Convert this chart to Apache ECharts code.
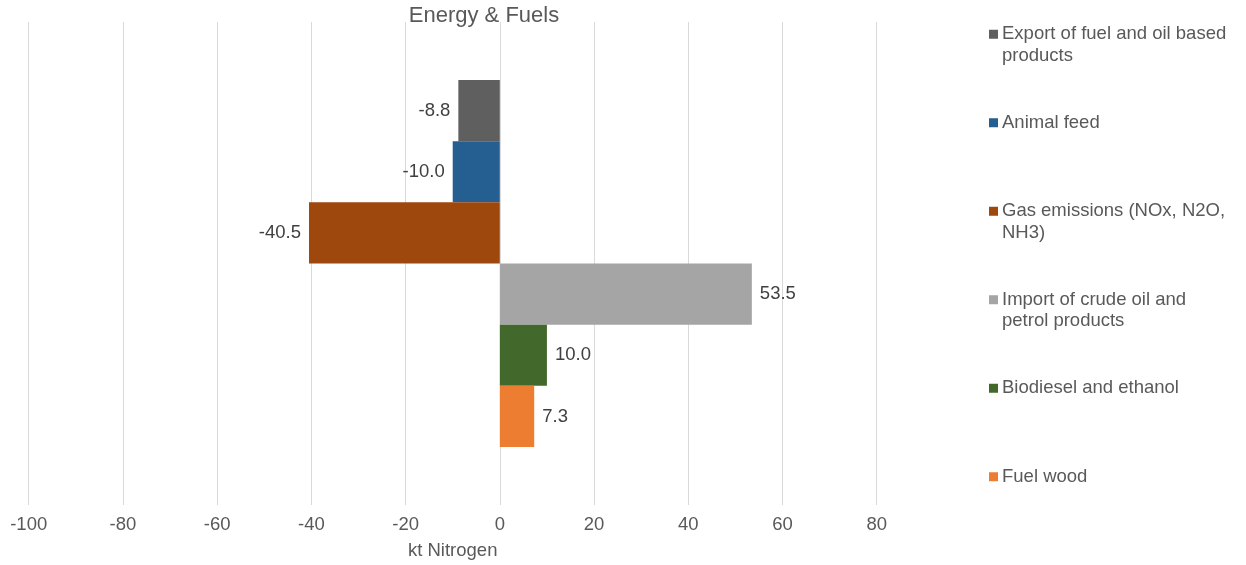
<!DOCTYPE html>
<html>
<head>
<meta charset="utf-8">
<title>Energy &amp; Fuels</title>
<script src="https://cdn.jsdelivr.net/npm/echarts@6/dist/echarts.min.js"></script>
<style>
  html, body { margin: 0; padding: 0; background: #fff; }
  #chart { width: 1246px; height: 565px; }
</style>
</head>
<body>
<div id="chart"></div>
<script>
// Nitrogen flows for the energy & fuels sector (kt N)
const seriesNames = [
  'Export of fuel and oil based products',
  'Animal feed',
  'Gas emissions (NOx, N2O, NH3)',
  'Import of crude oil and petrol products',
  'Biodiesel and ethanol',
  'Fuel wood'
];
const seriesValues = [-8.8, -10.0, -40.5, 53.5, 10.0, 7.3];
const seriesColors = ['#5f5f5f', '#255e91', '#9e480e', '#a5a5a5', '#43682b', '#ed7d31'];
// Legend text as wrapped in the side panel
const legendLines = [
  ['Export of fuel and oil based', 'products'],
  ['Animal feed'],
  ['Gas emissions (NOx, N2O,', 'NH3)'],
  ['Import of crude oil and', 'petrol products'],
  ['Biodiesel and ethanol'],
  ['Fuel wood']
];
const categories = ['Energy & Fuels'];
const axisMin = -100, axisMax = 80, axisStep = 20;

const FONT = '"Liberation Sans", Arial, sans-serif';
const TEXT = '#595959';
const FS = 18.5;

const chart = echarts.init(document.getElementById('chart'), null, { renderer: 'canvas' });

const series = seriesNames.map((name, i) => ({
  name: name,
  type: 'bar',
  data: [seriesValues[i]],
  barGap: '0%',
  barCategoryGap: '24%',
  itemStyle: { color: seriesColors[i] },
  label: {
    show: true,
    position: seriesValues[i] < 0 ? 'left' : 'right',
    distance: 8,
    formatter: p => p.value.toFixed(1),
    color: '#404040',
    fontSize: FS,
    fontFamily: FONT
  },
  emphasis: { disabled: true }
}));

chart.setOption({
  animation: false,
  title: {
    text: 'Energy & Fuels',
    left: 484,
    top: 5,
    padding: 0,
    textAlign: 'center',
    textStyle: { color: TEXT, fontSize: 22, fontWeight: 'normal', fontFamily: FONT }
  },
  legend: {
    orient: 'vertical',
    left: 989,
    top: 2,
    padding: 0,
    itemWidth: 9,
    itemHeight: 9,
    itemGap: 24,
    icon: 'rect',
    data: seriesNames,
    formatter: name => {
      const lines = legendLines[seriesNames.indexOf(name)];
      // three rows per entry so the swatch sits beside the first row
      return '\n' + lines[0] + '\n' + (lines[1] || ' ');
    },
    textStyle: { color: TEXT, fontSize: FS, lineHeight: 21.5, fontFamily: FONT, padding: [0, 0, 0, -1] }
  },
  grid: { left: 28.7, right: 369.3, top: 22, bottom: 59, containLabel: false },
  xAxis: {
    type: 'value',
    min: axisMin,
    max: axisMax,
    interval: axisStep,
    name: 'kt Nitrogen',
    nameLocation: 'middle',
    nameGap: 36,
    nameTextStyle: { color: TEXT, fontSize: FS, fontFamily: FONT },
    axisLine: { show: false },
    axisTick: { show: false },
    axisLabel: { color: TEXT, fontSize: FS, fontFamily: FONT, margin: 10 },
    splitLine: { show: true, lineStyle: { color: '#d9d9d9', width: 1 } }
  },
  yAxis: {
    type: 'category',
    data: categories,
    inverse: true,
    axisLine: { show: false },
    axisTick: { show: false },
    axisLabel: { show: false },
    splitLine: { show: false }
  },
  series: series
});
</script>
</body>
</html>
